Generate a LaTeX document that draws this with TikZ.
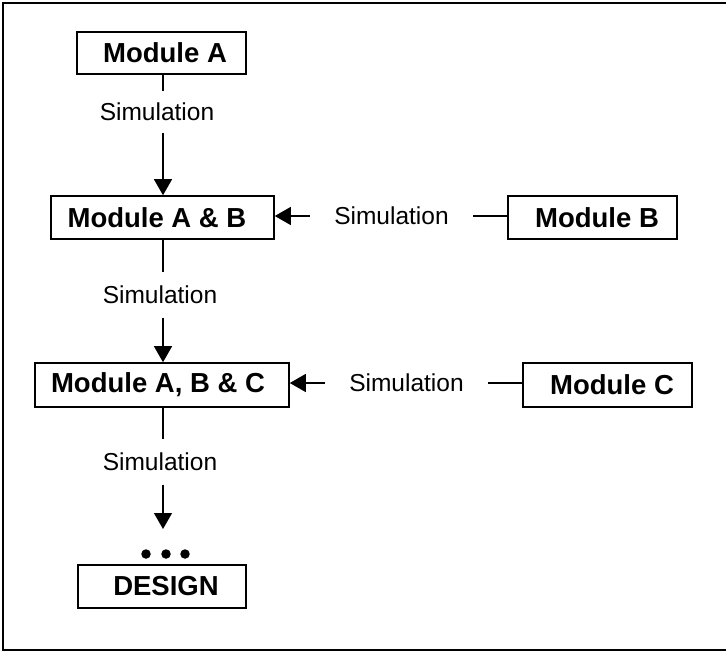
\documentclass[tikz,border=0pt]{standalone}
\usepackage{fontspec}
\setmainfont{Liberation Sans}
\usetikzlibrary{arrows.meta}
\tikzset{
  box/.style={draw=black, line width=1.6pt, rectangle, inner sep=0pt,
    font=\fontsize{27.5}{31}\selectfont\bfseries},
  simlabel/.style={inner sep=0pt, font=\fontsize{24.5}{28}\selectfont},
  conn/.style={line width=1.3pt},
  arrow/.style={line width=1.3pt, -{Triangle[length=16pt,width=18pt]}},
  dot/.style={circle, fill=black, inner sep=0pt, minimum size=9.5pt}
}
\begin{document}
\begin{tikzpicture}[x=1pt,y=-1pt]
\useasboundingbox (0,0) rectangle (726,651);
\draw[line width=2.6pt] (740,3) -- (3,3) -- (3,650) -- (740,650);
% boxes
\node[box, minimum width=169pt, minimum height=42pt] (a) at (161.5,53) {\hspace*{7pt}Module A};
\node[box, minimum width=223pt, minimum height=43pt] (ab) at (162.5,217.5) {Module A \& B\hspace*{11pt}};
\node[box, minimum width=169pt, minimum height=43pt] (b) at (592.5,217.5) {\hspace*{9pt}Module B};
\node[box, minimum width=254pt, minimum height=44pt] (abc) at (162,385) {Module A, B \& C\hspace*{8pt}};
\node[box, minimum width=169pt, minimum height=44pt] (c) at (607.5,385) {\hspace*{9pt}Module C};
\node[box, minimum width=168pt, minimum height=43pt] (d) at (162,586.5) {\hspace*{8pt}DESIGN};
% vertical simulation labels
\node[simlabel, minimum height=42pt] (s1) at (157,112) {Simulation};
\node[simlabel, minimum height=45pt] (s2) at (160,295) {Simulation};
\node[simlabel, minimum height=45pt] (s3) at (160,462) {Simulation};
% horizontal simulation labels
\node[simlabel, minimum width=163pt] (sb) at (391.5,216) {Simulation};
\node[simlabel, minimum width=163pt] (sc) at (406.5,383) {Simulation};
% dots
\node[dot] (d1) at (146,554) {};
\node[dot] (d2) at (166,554) {};
\node[dot] (d3) at (185,554) {};
\coordinate (end) at (163,529);
% vertical connectors
\draw[conn] (a.south -| end) -- (s1.north -| end);
\draw[arrow] (s1.south -| end) -- (ab.north -| end);
\draw[conn] (ab.south -| end) -- (s2.north -| end);
\draw[arrow] (s2.south -| end) -- (abc.north -| end);
\draw[conn] (abc.south -| end) -- (s3.north -| end);
\draw[arrow] (s3.south -| end) -- (end);
% horizontal connectors
\draw[conn] (b.west |- sb.east) -- (sb.east);
\draw[arrow] (sb.west) -- (ab.east |- sb.west);
\draw[conn] (c.west |- sc.east) -- (sc.east);
\draw[arrow] (sc.west) -- (abc.east |- sc.west);
\end{tikzpicture}
\end{document}
